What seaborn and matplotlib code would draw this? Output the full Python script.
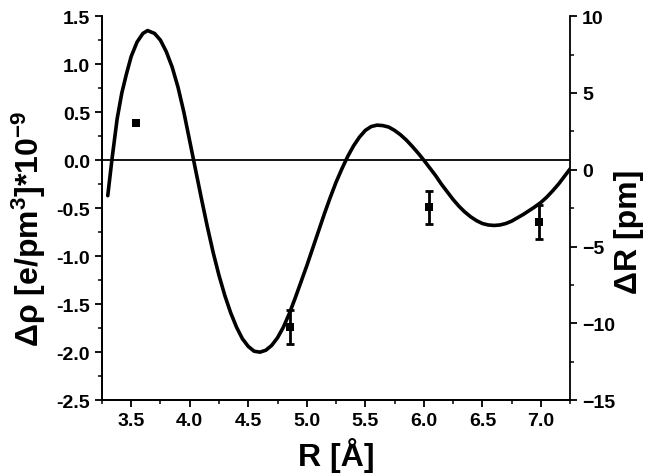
import numpy as np
import pandas as pd
import seaborn as sns
import matplotlib.pyplot as plt
from matplotlib.ticker import MultipleLocator

# fitted curve (left axis)
curve_r = [3.30, 3.335, 3.38, 3.42, 3.46, 3.50, 3.55, 3.60, 3.64, 3.70, 3.75, 3.80,
           3.85, 3.90, 3.95, 4.00, 4.05, 4.10, 4.15, 4.20, 4.25, 4.30, 4.35, 4.40,
           4.45, 4.50, 4.55, 4.60, 4.65, 4.70, 4.75, 4.80, 4.85, 4.90, 4.95, 5.00,
           5.05, 5.10, 5.15, 5.20, 5.25, 5.30, 5.35, 5.40, 5.45, 5.50, 5.55, 5.60,
           5.65, 5.70, 5.75, 5.80, 5.85, 5.90, 5.95, 6.00, 6.05, 6.10, 6.15, 6.20,
           6.25, 6.30, 6.35, 6.40, 6.45, 6.50, 6.55, 6.60, 6.65, 6.70, 6.75, 6.80,
           6.85, 6.90, 6.95, 7.00, 7.05, 7.10, 7.15, 7.20, 7.25]
curve_rho = [-0.37, 0.0, 0.43, 0.70, 0.90, 1.08, 1.23, 1.32, 1.35, 1.32, 1.25, 1.13,
             0.97, 0.76, 0.50, 0.20, -0.10, -0.40, -0.69, -0.96, -1.20, -1.41, -1.59, -1.74,
             -1.86, -1.94, -1.99, -2.00, -1.98, -1.93, -1.85, -1.74, -1.60, -1.44, -1.27, -1.10,
             -0.92, -0.74, -0.56, -0.39, -0.23, -0.09, 0.04, 0.15, 0.24, 0.31, 0.35, 0.365,
             0.36, 0.345, 0.31, 0.265, 0.21, 0.145, 0.075, 0.0, -0.08, -0.16, -0.25, -0.33,
             -0.41, -0.48, -0.54, -0.59, -0.63, -0.66, -0.675, -0.68, -0.675, -0.66, -0.635, -0.60,
             -0.565, -0.525, -0.485, -0.44, -0.385, -0.32, -0.25, -0.17, -0.09]

# measured points (right axis)
pts_r = [3.54, 4.86, 6.045, 6.985]
pts_dR = [3.03, -10.25, -2.43, -3.41]
pts_err = [np.nan, 1.1, 1.07, 1.1]

curve = pd.DataFrame({"R": curve_r, "rho": curve_rho})
pts = pd.DataFrame({"R": pts_r, "dR": pts_dR})

sns.set_style("ticks")
plt.rcParams['font.family'] = ['Liberation Sans', 'DejaVu Sans']
plt.rcParams['font.weight'] = 'bold'
plt.rcParams['text.color'] = 'black'
plt.rcParams['axes.labelcolor'] = 'black'
plt.rcParams['axes.edgecolor'] = 'black'
plt.rcParams['xtick.color'] = 'black'
plt.rcParams['ytick.color'] = 'black'
plt.rcParams['mathtext.fontset'] = 'custom'
plt.rcParams['mathtext.rm'] = 'Liberation Sans:bold'
plt.rcParams['mathtext.bf'] = 'Liberation Sans:bold'
plt.rcParams['mathtext.it'] = 'Liberation Sans:bold'

fig = plt.figure(figsize=(6.45, 4.77), dpi=100)
ax = fig.add_axes([0.158, 0.159, 0.726, 0.805])
ax2 = ax.twinx()

sns.lineplot(data=curve, x="R", y="rho", ax=ax, color="black", lw=2.6, sort=False)
ax.axhline(0, color="black", lw=1.3)

ax2.errorbar(pts_r, pts_dR, yerr=pts_err, fmt="none", ecolor="black",
             elinewidth=2, capsize=3, capthick=2)
sns.scatterplot(data=pts, x="R", y="dR", ax=ax2, marker="s", color="black",
                s=34, linewidth=0, zorder=5)

ax.set_xlim(3.25, 7.25)
ax.set_ylim(-2.5, 1.5)
ax2.set_ylim(-15, 10)

ax.xaxis.set_major_locator(MultipleLocator(0.5))
ax.xaxis.set_minor_locator(MultipleLocator(0.25))
ax.yaxis.set_major_locator(MultipleLocator(0.5))
ax.yaxis.set_minor_locator(MultipleLocator(0.25))
ax2.yaxis.set_major_locator(MultipleLocator(5))
ax2.yaxis.set_minor_locator(MultipleLocator(2.5))

for a in (ax, ax2):
    a.tick_params(which="major", direction="out", length=5, width=1.3, labelsize=14,
                  colors="black")
    a.tick_params(which="minor", direction="out", length=3, width=1.1, colors="black")
    for s in a.spines.values():
        s.set_linewidth(1.3)
        s.set_color("black")
    a.spines["top"].set_visible(False)
ax.spines["right"].set_visible(False)

ax.yaxis.set_major_formatter(plt.FuncFormatter(lambda v, p: f"{v:.1f}"))
ax.xaxis.set_major_formatter(plt.FuncFormatter(lambda v, p: f"{v:.1f}"))

ax.set_xlabel("R [Å]", fontsize=23, fontweight="bold", labelpad=6, color="black")
ax.set_ylabel(r"Δρ [e/pm$^{3}$]*10$^{-9}$", fontsize=23, fontweight="bold", color="black")
ax2.set_ylabel("ΔR [pm]", fontsize=23, fontweight="bold", color="black")
ax.yaxis.set_label_coords(-0.115, 0.45)
ax2.yaxis.set_label_coords(1.093, 0.44)

fig.savefig("out.png", dpi=100)
